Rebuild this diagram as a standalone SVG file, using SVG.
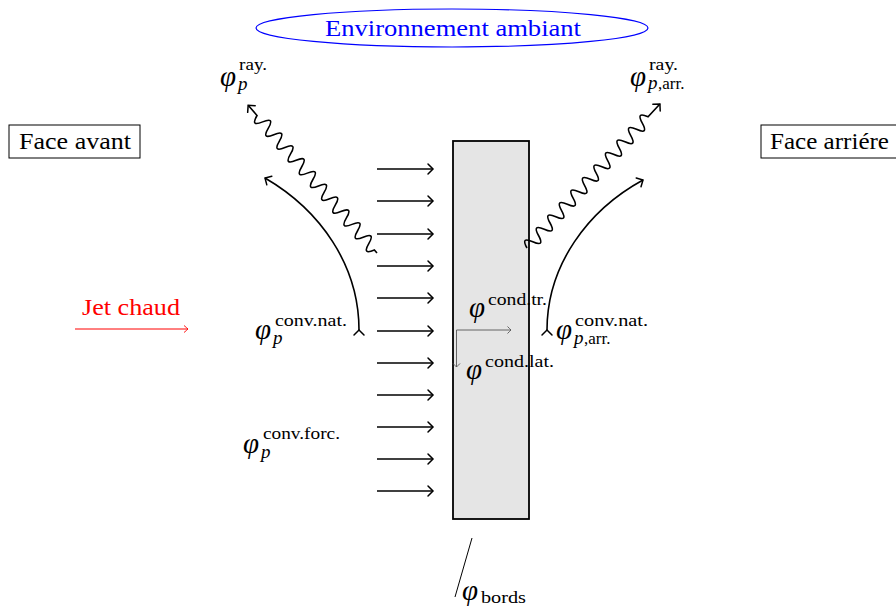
<svg xmlns="http://www.w3.org/2000/svg" width="896" height="610" viewBox="0 0 896 610">
<style>
text{font-family:"Liberation Serif","DejaVu Serif",serif;fill:#000}
.lab{font-size:23px}
.phi{font-size:29px;font-style:italic}
.sup{font-size:17px}
.sub{font-size:19px;font-style:italic}
.subr{font-size:17px}
.arr{stroke:#000;stroke-width:1.6;fill:none;marker-end:url(#to)}
.conv{stroke:#000;stroke-width:1.6;fill:none;marker-end:url(#to);marker-start:url(#to)}
.snake{stroke:#000;stroke-width:1.6;fill:none;marker-end:url(#to)}
.cond{stroke:#555;stroke-width:0.9;fill:none;marker-end:url(#tog)}
</style>
<defs>
<marker id="to" markerUnits="userSpaceOnUse" markerWidth="14" markerHeight="14" refX="0" refY="0" viewBox="-7 -7 14 14" orient="auto" overflow="visible">
<path d="M-5,-5 Q-1.5,-1.5 0,0 Q-1.5,1.5 -5,5" stroke="#000" stroke-width="1.5" fill="none" stroke-linecap="round"/>
</marker>
<marker id="tog" markerUnits="userSpaceOnUse" markerWidth="10" markerHeight="10" refX="0" refY="0" viewBox="-5 -5 10 10" orient="auto" overflow="visible">
<path d="M-3.5,-3.5 Q-1,-1 0,0 Q-1,1 -3.5,3.5" stroke="#555" stroke-width="0.9" fill="none"/>
</marker>
<marker id="tor" markerUnits="userSpaceOnUse" markerWidth="10" markerHeight="10" refX="0" refY="0" viewBox="-5 -5 10 10" orient="auto" overflow="visible">
<path d="M-4,-3.5 Q-1,-1 0,0 Q-1,1 -4,3.5" stroke="#f00" stroke-width="0.9" fill="none"/>
</marker>
</defs>
<rect width="896" height="610" fill="#fff"/>

<g id="environnement">
<ellipse cx="452" cy="28" rx="196" ry="19" fill="none" stroke="#00f" stroke-width="1.2"/>
<text x="325" y="36" class="lab" textLength="256" lengthAdjust="spacingAndGlyphs" style="fill:#00f">Environnement ambiant</text>
</g>

<g id="face-avant">
<rect x="9" y="125" width="131" height="33" fill="none" stroke="#000" stroke-width="1"/>
<text x="19" y="149" class="lab" textLength="112" lengthAdjust="spacingAndGlyphs">Face avant</text>
</g>

<g id="face-arriere">
<rect x="761" y="125" width="145" height="33" fill="none" stroke="#000" stroke-width="1"/>
<text x="770" y="149" class="lab" textLength="119" lengthAdjust="spacingAndGlyphs">Face arriére</text>
</g>

<g id="plaque">
<rect x="453" y="141" width="76" height="378" fill="#e5e5e5" stroke="#000" stroke-width="1.8"/>
</g>

<g id="jet-chaud">
<text x="82" y="315" class="lab" textLength="98" lengthAdjust="spacingAndGlyphs" style="fill:#f00">Jet chaud</text>
<line x1="75" y1="329" x2="188" y2="329" stroke="#f00" stroke-width="1" marker-end="url(#tor)"/>
</g>

<g id="connecteurs">
<g id="jets">
<line class="arr" x1="377" y1="169" x2="433" y2="169"/>
<line class="arr" x1="377" y1="201" x2="433" y2="201"/>
<line class="arr" x1="377" y1="234" x2="433" y2="234"/>
<line class="arr" x1="377" y1="266" x2="433" y2="266"/>
<line class="arr" x1="377" y1="298" x2="433" y2="298"/>
<line class="arr" x1="377" y1="331" x2="433" y2="331"/>
<line class="arr" x1="377" y1="363" x2="433" y2="363"/>
<line class="arr" x1="377" y1="395" x2="433" y2="395"/>
<line class="arr" x1="377" y1="427" x2="433" y2="427"/>
<line class="arr" x1="377" y1="459" x2="433" y2="459"/>
<line class="arr" x1="377" y1="491" x2="433" y2="491"/>
</g>
<path class="conv" d="M359,330 C359,265 320,210 265,178"/>
<path class="conv" d="M547,330 C547,265 588,210 643,180"/>
<g transform="translate(377,253) rotate(-131.1)">
<path class="snake" d="M0,0 h4 q4.25,-13 8.5,0 t8.5,0 t8.5,0 t8.5,0 t8.5,0 t8.5,0 t8.5,0 t8.5,0 t8.5,0 t8.5,0 t8.5,0 t8.5,0 t8.5,0 t8.5,0 t8.5,0 t8.5,0 t8.5,0 t8.5,0 t8.5,0 t8.5,0 t8.5,0 h13.5"/>
</g>
<g transform="translate(527,248) rotate(-47.3)">
<path class="snake" d="M0,0 q4.25,-13 8.5,0 t8.5,0 t8.5,0 t8.5,0 t8.5,0 t8.5,0 t8.5,0 t8.5,0 t8.5,0 t8.5,0 t8.5,0 t8.5,0 t8.5,0 t8.5,0 t8.5,0 t8.5,0 t8.5,0 t8.5,0 t8.5,0 t8.5,0 t8.5,0 h17.5"/>
</g>
<path class="cond" d="M456.5,330 H511"/>
<path class="cond" d="M456.5,330 V367"/>
<line x1="472" y1="538" x2="455" y2="597" stroke="#000" stroke-width="1"/>
</g>

<g id="labels">
<text><tspan class="phi" x="220" y="86">φ</tspan><tspan class="sub" x="238" y="90">p</tspan><tspan class="sup" x="239" y="70" textLength="28" lengthAdjust="spacingAndGlyphs">ray.</tspan></text>
<text><tspan class="phi" x="630" y="86">φ</tspan><tspan class="sup" x="649" y="70" textLength="29" lengthAdjust="spacingAndGlyphs">ray.</tspan><tspan class="sub" x="648" y="89">p</tspan><tspan class="subr" x="658" y="89">,arr.</tspan></text>
<text><tspan class="phi" x="255" y="339">φ</tspan><tspan class="sub" x="273" y="344">p</tspan><tspan class="sup" x="275" y="326" textLength="72" lengthAdjust="spacingAndGlyphs">conv.nat.</tspan></text>
<text><tspan class="phi" x="243" y="453">φ</tspan><tspan class="sub" x="261" y="458">p</tspan><tspan class="sup" x="263" y="439" textLength="77" lengthAdjust="spacingAndGlyphs">conv.forc.</tspan></text>
<text><tspan class="phi" x="556" y="339">φ</tspan><tspan class="sup" x="575" y="326" textLength="73" lengthAdjust="spacingAndGlyphs">conv.nat.</tspan><tspan class="sub" x="574" y="344">p</tspan><tspan class="subr" x="584" y="344">,arr.</tspan></text>
<text><tspan class="phi" x="469" y="317">φ</tspan><tspan class="sup" x="488" y="305" textLength="59" lengthAdjust="spacingAndGlyphs">cond.tr.</tspan></text>
<text><tspan class="phi" x="466" y="379">φ</tspan><tspan class="sup" x="485" y="367" textLength="69" lengthAdjust="spacingAndGlyphs">cond.lat.</tspan></text>
<text><tspan class="phi" x="462" y="600">φ</tspan><tspan class="sup" x="481" y="603" textLength="45" lengthAdjust="spacingAndGlyphs">bords</tspan></text>
</g>
</svg>
